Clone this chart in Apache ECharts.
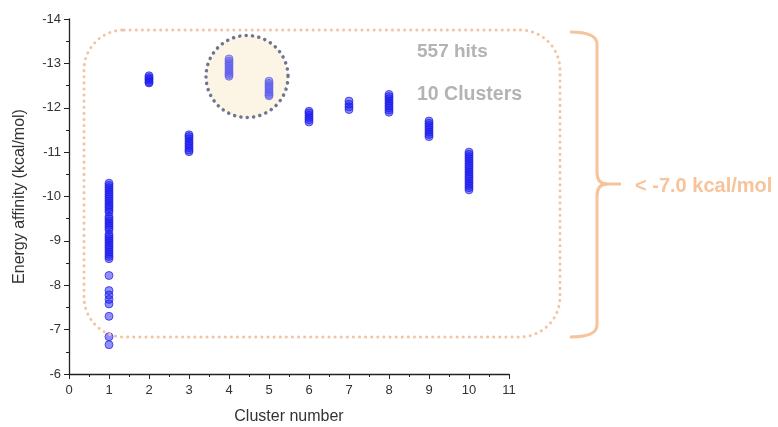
<!DOCTYPE html>
<html><head><meta charset="utf-8">
<script src="https://cdn.jsdelivr.net/npm/echarts@6/dist/echarts.min.js"></script>
<style>html,body{margin:0;padding:0;background:#fff}#c{width:778px;height:427px}</style>
</head><body><div id="c"></div>
<script>
// ---- data ----
const clusterNumbers = [1, 2, 3, 4, 5, 6, 7, 8, 9, 10];
const cluster1 = [-10.3, -10.25, -10.2, -10.15, -10.1, -10.05, -10.0, -9.95, -9.9, -9.85, -9.8, -9.75, -9.7, -9.65,
  -9.55, -9.5, -9.45, -9.4, -9.35, -9.3, -9.25, -9.15, -9.1, -9.05, -9.0, -8.95, -8.9, -8.85, -8.8, -8.75, -8.7,
  -8.65, -8.6, -8.22, -7.88, -7.78, -7.68, -7.58, -7.3, -6.84, -6.66];
const cluster2 = [-12.72, -12.68, -12.65, -12.62, -12.58, -12.56];
const cluster3 = [-11.39, -11.35, -11.3, -11.25, -11.2, -11.15, -11.1, -11.05, -11.01];
const cluster4 = [-13.1, -13.05, -13.0, -12.95, -12.9, -12.85, -12.8, -12.75, -12.71];
const cluster5 = [-12.6, -12.55, -12.5, -12.45, -12.4, -12.35, -12.3, -12.27];
const cluster6 = [-11.92, -11.88, -11.83, -11.78, -11.73, -11.68];
const cluster7 = [-12.15, -12.08, -12.02, -11.96];
const cluster8 = [-12.3, -12.25, -12.2, -12.15, -12.1, -12.05, -12.0, -11.95, -11.9];
const cluster9 = [-11.7, -11.65, -11.6, -11.55, -11.5, -11.45, -11.4, -11.35];
const cluster10 = [-11.0, -10.95, -10.9, -10.85, -10.8, -10.75, -10.7, -10.65, -10.6, -10.55, -10.5, -10.45,
  -10.4, -10.35, -10.3, -10.25, -10.2, -10.15];
const xTickLabels = ['0','1','2','3','4','5','6','7','8','9','10','11'];
const yTickLabels = ['-14','-13','-12','-11','-10','-9','-8','-7','-6'];
const hitsText = '557 hits';
const clustersText = '10 Clusters';
const thresholdText = '< -7.0 kcal/mol';

const clusters = [cluster1, cluster2, cluster3, cluster4, cluster5, cluster6, cluster7, cluster8, cluster9, cluster10];
const points = [];
clusters.forEach((vals, i) => vals.forEach(v => points.push([clusterNumbers[i], v])));

const chart = echarts.init(document.getElementById('c'), null, {renderer: 'canvas'});
const FONT = 'Liberation Sans, Arial, sans-serif';
const orange = '#f6c39b';
const bracketStyle = {fill: 'none', stroke: orange, lineWidth: 3};

chart.setOption({
  animation: false,
  backgroundColor: '#ffffff',
  grid: {left: 69, right: 269, top: 19, bottom: 53, containLabel: false, outerBoundsMode: 'none'},
  xAxis: {
    type: 'value', min: 0, max: 11, interval: 1,
    name: 'Cluster number', nameLocation: 'middle', nameGap: 35,
    nameTextStyle: {fontFamily: FONT, fontSize: 16, color: '#333'},
    axisLine: {show: true, onZero: false, lineStyle: {color: '#222', width: 1.3}},
    axisTick: {show: true, length: 5, lineStyle: {color: '#222'}},
    minorTick: {show: true, splitNumber: 2, length: 3, lineStyle: {color: '#222'}},
    splitLine: {show: false},
    axisLabel: {fontFamily: FONT, fontSize: 13, color: '#333', margin: 10,
      formatter: v => xTickLabels[Math.round(v)]}
  },
  yAxis: {
    type: 'value', min: -14, max: -6, interval: 1, inverse: true,
    name: 'Energy affinity (kcal/mol)', nameLocation: 'middle', nameGap: 41,
    nameTextStyle: {fontFamily: FONT, fontSize: 16, color: '#333'},
    axisLine: {show: true, onZero: false, lineStyle: {color: '#222', width: 1.3}},
    axisTick: {show: true, length: 5, lineStyle: {color: '#222'}},
    minorTick: {show: true, splitNumber: 2, length: 3, lineStyle: {color: '#222'}},
    splitLine: {show: false},
    axisLabel: {fontFamily: FONT, fontSize: 13, color: '#333', margin: 8,
      formatter: v => yTickLabels[Math.round(v + 14)]}
  },
  series: [{
    type: 'scatter',
    data: points,
    symbol: 'circle',
    symbolSize: 8,
    z: 5,
    itemStyle: {color: 'rgba(30,30,240,0.62)', borderColor: 'rgba(30,30,235,0.9)', borderWidth: 1}
  }],
  graphic: [
    {type: 'circle', z: 1, shape: {cx: 247, cy: 76.5, r: 41}, style: {fill: '#fcf5e4'}},
    {type: 'circle', z: 100, shape: {cx: 247, cy: 76.5, r: 41},
      style: {fill: 'rgba(252,246,232,0.3)', stroke: '#6d7591', lineWidth: 3.5, lineDash: [0.1, 6.3], lineCap: 'round'}},
    {type: 'rect', z: 90, shape: {x: 84, y: 30, width: 476, height: 307, r: 40},
      style: {fill: 'none', stroke: '#f4c3a0', lineWidth: 3, lineDash: [0.1, 6], lineCap: 'round'}},
    {type: 'bezierCurve', z: 90, shape: {x1: 570, y1: 32, cpx1: 597, cpy1: 32, x2: 597, y2: 44}, style: bracketStyle},
    {type: 'line', z: 90, shape: {x1: 597, y1: 44, x2: 597, y2: 172}, style: bracketStyle},
    {type: 'bezierCurve', z: 90, shape: {x1: 597, y1: 172, cpx1: 597, cpy1: 184, x2: 607, y2: 184}, style: bracketStyle},
    {type: 'bezierCurve', z: 90, shape: {x1: 607, y1: 184, cpx1: 597, cpy1: 184, x2: 597, y2: 196}, style: bracketStyle},
    {type: 'line', z: 90, shape: {x1: 597, y1: 196, x2: 597, y2: 325}, style: bracketStyle},
    {type: 'bezierCurve', z: 90, shape: {x1: 597, y1: 325, cpx1: 597, cpy1: 337, x2: 570, y2: 337}, style: bracketStyle},
    {type: 'line', z: 90, shape: {x1: 606, y1: 184, x2: 621, y2: 184}, style: bracketStyle},
    {type: 'text', z: 90, x: 417, y: 52,
      style: {text: hitsText, fill: '#b3b3b3', font: 'bold 19px ' + FONT, verticalAlign: 'middle'}},
    {type: 'text', z: 90, x: 417, y: 95,
      style: {text: clustersText, fill: '#b3b3b3', font: 'bold 19.5px ' + FONT, verticalAlign: 'middle'}},
    {type: 'text', z: 90, x: 635, y: 186,
      style: {text: thresholdText, fill: orange, font: 'bold 20px ' + FONT, verticalAlign: 'middle'}}
  ]
});
</script>
</body></html>
